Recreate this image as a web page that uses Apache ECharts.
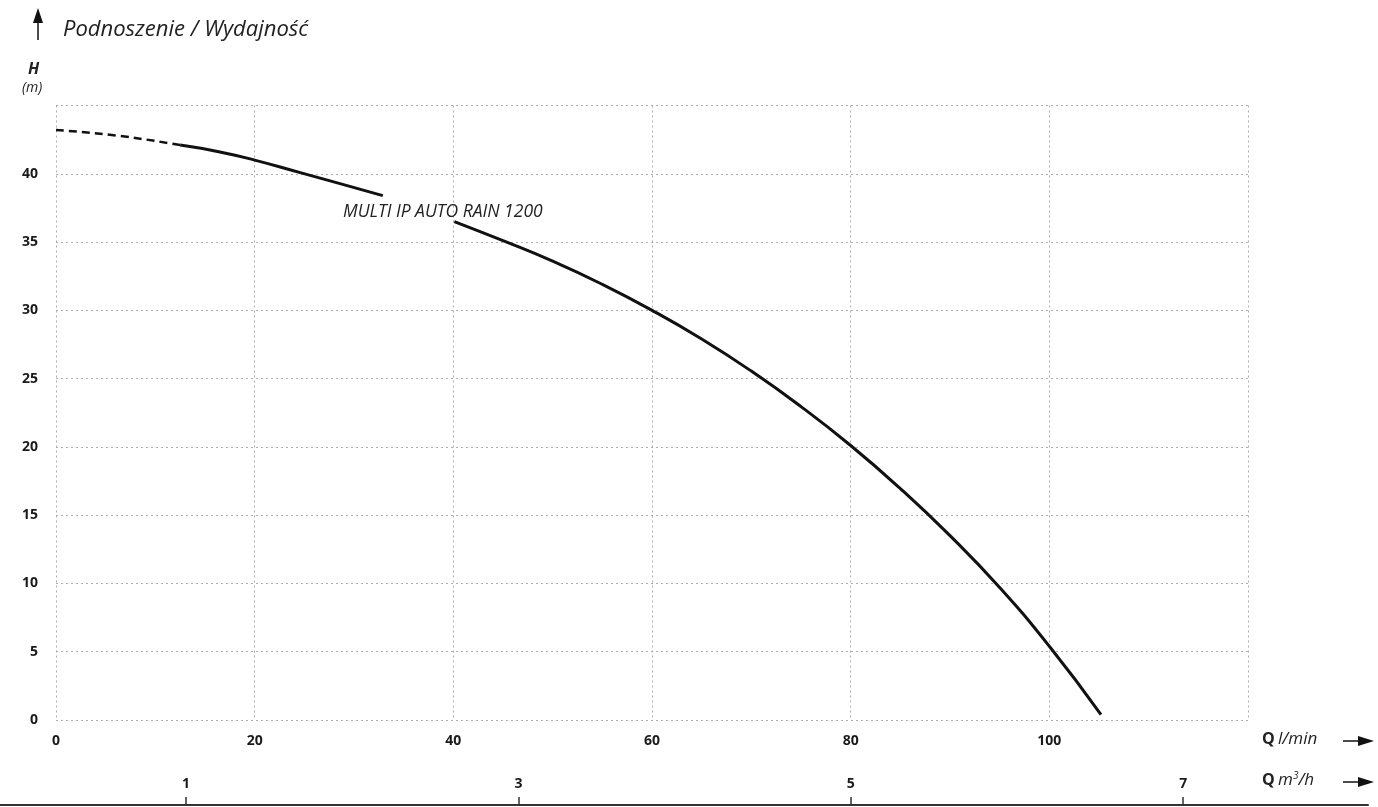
<!DOCTYPE html>
<html>
<head>
<meta charset="utf-8">
<script src="https://cdn.jsdelivr.net/npm/echarts@6/dist/echarts.min.js"></script>
<style>
html,body{margin:0;padding:0;background:#fff;}
#chart{width:1378px;height:807px;}
</style>
</head>
<body>
<div id="chart"></div>
<script>
// ---- data ----
const Q_DASHED = [0, 6.1, 12.5];
const H_DASHED = [43.2, 42.8, 42.1];
const Q_SOLID_A = [12.5, 16.5, 20, 24.5, 28.5, 32.9];
const H_SOLID_A = [42.1, 41.6, 41.0, 40.1, 39.3, 38.4];
const Q_SOLID_B = [40.1, 45, 50, 55, 60, 65, 70, 75, 80, 85, 90, 95, 100, 105.2];
const H_SOLID_B = [36.5, 35.1, 33.6, 31.9, 30.0, 27.9, 25.55, 22.95, 20.1, 16.95, 13.5, 9.7, 5.4, 0.4];
const M3H_TICKS = [1, 3, 5, 7];
const TITLE = 'Podnoszenie / Wydajność';
const CURVE_NAME = 'MULTI IP AUTO RAIN 1200';

const FONT = '"Open Sans", "Noto Sans", sans-serif';
const zip = (a, b) => a.map((v, i) => [v, b[i]]);

const chart = echarts.init(document.getElementById('chart'), null, {renderer: 'canvas'});
const gridLine = {show: true, lineStyle: {color: '#adadad', width: 1, type: [2, 3]}};

chart.setOption({
  animation: false,
  backgroundColor: '#fff',
  grid: [
    {left: 56, right: 130, top: 105.5, bottom: 87},
    {left: 0, right: 10, bottom: 2, height: 60}
  ],
  xAxis: [
    {
      type: 'value', gridIndex: 0, min: 0, max: 120, interval: 20,
      axisLine: {show: false}, axisTick: {show: false},
      axisLabel: {show: true, showMaxLabel: false, margin: 14, color: '#1a1a1a',
        fontFamily: FONT, fontWeight: 'bold', fontSize: 14},
      splitLine: gridLine
    },
    {
      type: 'value', gridIndex: 1, min: -0.119, max: 8.112,
      axisLine: {show: true, onZero: false, lineStyle: {color: '#333', width: 2}},
      axisTick: {show: true, inside: true, length: 8, customValues: M3H_TICKS,
        lineStyle: {color: '#333', width: 1.5}},
      axisLabel: {show: true, inside: true, margin: 14, customValues: M3H_TICKS,
        color: '#1a1a1a', fontFamily: FONT, fontWeight: 'bold', fontSize: 14},
      splitLine: {show: false}
    }
  ],
  yAxis: [
    {
      type: 'value', gridIndex: 0, min: 0, max: 45, interval: 5,
      axisLine: {show: false}, axisTick: {show: false},
      axisLabel: {show: true, showMaxLabel: false, margin: 18, color: '#1a1a1a',
        fontFamily: FONT, fontWeight: 'bold', fontSize: 14},
      splitLine: gridLine
    },
    {type: 'value', gridIndex: 1, min: 0, max: 1, show: false}
  ],
  series: [
    {
      type: 'line', xAxisIndex: 0, yAxisIndex: 0, data: zip(Q_DASHED, H_DASHED),
      smooth: 0.5, symbol: 'none',
      lineStyle: {color: '#111', width: 2.5, type: [8, 5]}
    },
    {
      type: 'line', xAxisIndex: 0, yAxisIndex: 0, data: zip(Q_SOLID_A, H_SOLID_A),
      smooth: 0.5, symbol: 'none',
      lineStyle: {color: '#111', width: 3}
    },
    {
      type: 'line', xAxisIndex: 0, yAxisIndex: 0, data: zip(Q_SOLID_B, H_SOLID_B),
      smooth: 0.5, symbol: 'none',
      lineStyle: {color: '#111', width: 3}
    }
  ],
  graphic: [
    // up arrow
    {type: 'line', shape: {x1: 38, y1: 22, x2: 38, y2: 40}, style: {stroke: '#111', lineWidth: 1.5}},
    {type: 'polygon', shape: {points: [[38, 8], [33, 23], [43, 23]]}, style: {fill: '#111'}},
    {type: 'text', left: 63, top: 19, style: {text: TITLE, font: 'italic 22px ' + FONT, fill: '#222'}},
    {type: 'text', left: 28, top: 61, style: {text: 'H', font: 'italic bold 16px ' + FONT, fill: '#222'}},
    {type: 'text', left: 22, top: 81, style: {text: '(m)', font: 'italic 14px ' + FONT, fill: '#222'}},
    // curve name
    {type: 'text', left: 343, top: 203, z: 10, style: {text: CURVE_NAME, font: 'italic 17.5px ' + FONT, fill: '#222'}},
    // Q l/min
    {type: 'text', left: 1262, top: 731, style: {
      text: '{b|Q} {i|l/min}',
      rich: {b: {font: 'bold 16px ' + FONT, fill: '#222'}, i: {font: 'italic 17px ' + FONT, fill: '#222'}}
    }},
    {type: 'line', shape: {x1: 1343, y1: 741, x2: 1362, y2: 741}, style: {stroke: '#111', lineWidth: 1.5}},
    {type: 'polygon', shape: {points: [[1374, 741], [1358, 736], [1358, 746]]}, style: {fill: '#111'}},
    // Q m3/h
    {type: 'text', left: 1262, top: 771, style: {
      text: '{b|Q} {i|m}{s|3}{i|/h}',
      rich: {b: {font: 'bold 16px ' + FONT, fill: '#222'}, i: {font: 'italic 17px ' + FONT, fill: '#222'},
        s: {font: 'italic 10px ' + FONT, fill: '#222', verticalAlign: 'top', padding: [0, 0, 8, 0]}}
    }},
    {type: 'line', shape: {x1: 1343, y1: 782, x2: 1362, y2: 782}, style: {stroke: '#111', lineWidth: 1.5}},
    {type: 'polygon', shape: {points: [[1374, 782], [1358, 777], [1358, 787]]}, style: {fill: '#111'}}
  ]
});
</script>
</body>
</html>
